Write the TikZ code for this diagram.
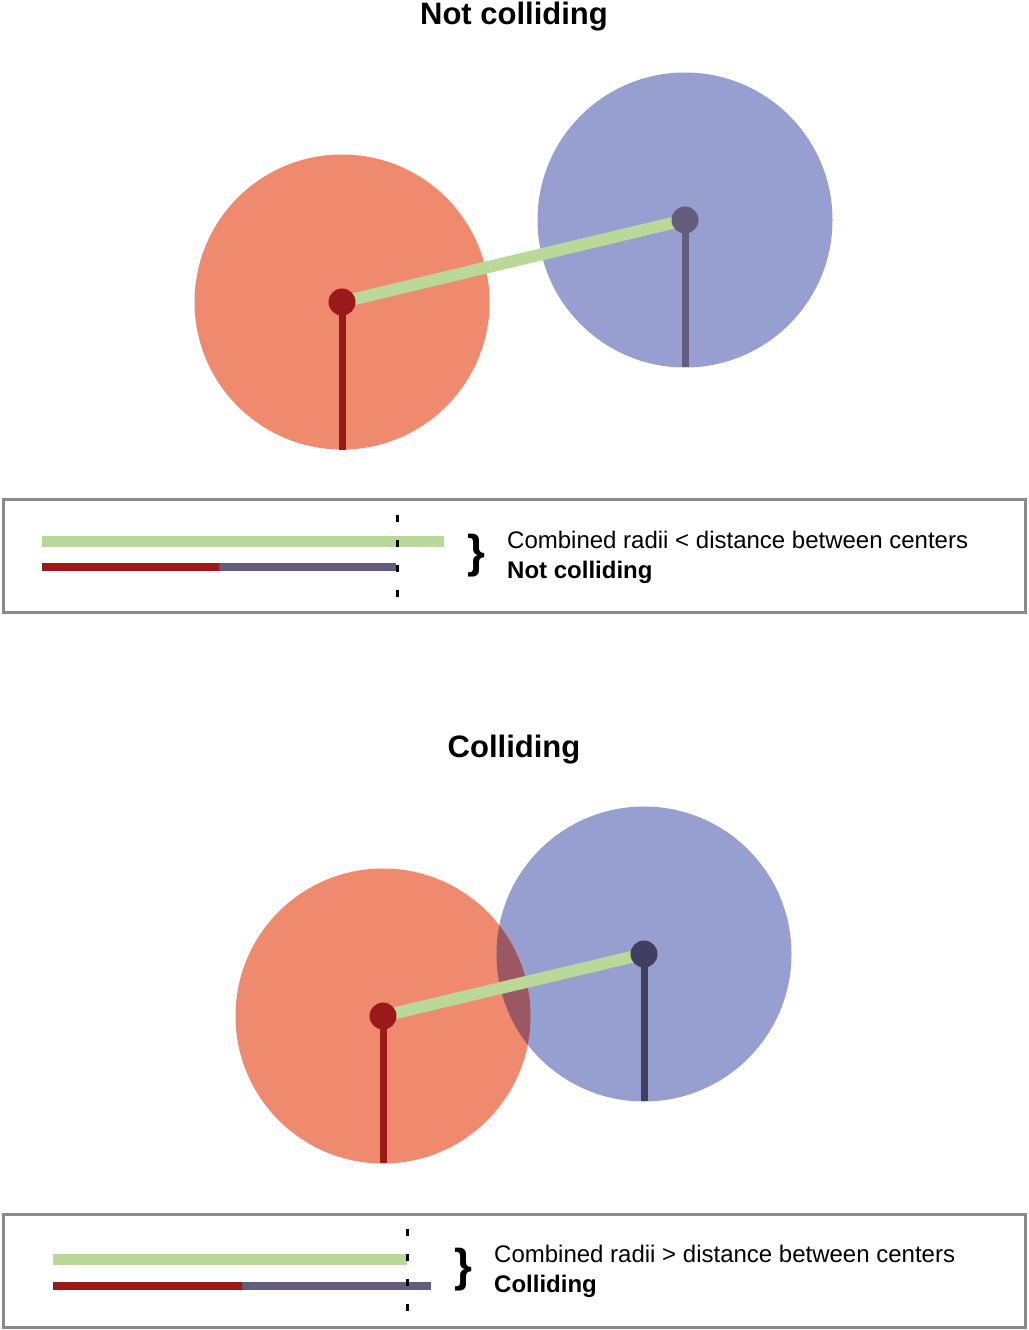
\documentclass[tikz,border=0pt]{standalone}
\usepackage{fontspec}
\setmainfont{Liberation Sans}
\definecolor{redfill}{RGB}{240,138,110}
\definecolor{bluefill}{RGB}{150,159,207}
\definecolor{greenl}{RGB}{186,216,152}
\definecolor{darkred}{RGB}{154,26,26}
\definecolor{slate}{RGB}{99,92,124}
\definecolor{darkslate}{RGB}{65,63,95}
\definecolor{interc}{RGB}{155,88,100}
\definecolor{boxgray}{RGB}{138,138,138}
\tikzset{
  title/.style={font=\fontsize{31}{36}\selectfont\bfseries, inner sep=0},
  legtext/.style={font=\fontsize{24}{30}\selectfont, anchor=north west, align=left, inner sep=0},
  bracetxt/.style={font=\fontsize{46}{50}\selectfont, inner sep=0},
  legbox/.style={draw=boxgray, line width=3pt},
  greenbar/.style={draw=greenl, line width=11pt},
  redbar/.style={draw=darkred, line width=8pt},
  slatebar/.style={draw=slate, line width=8pt},
  dashline/.style={draw=black, line width=3pt, dash pattern=on 7pt off 18pt},
  centerline/.style={draw=greenl, line width=12pt},
  radline/.style={line width=7pt},
}
\begin{document}
\begin{tikzpicture}[x=1pt,y=-1pt]
\useasboundingbox (0,0) rectangle (1028,1330);
\fill[white] (0,0) rectangle (1028,1330);

% ---------- Top: not colliding ----------
\node[title] (t1) at (514,17) {Not colliding};
\fill[redfill] (342,302) circle (147.5);
\fill[bluefill] (685,220) circle (147.5);
\coordinate (rc1) at (342,302);
\coordinate (bc1) at (685,220);
\coordinate (rb1) at (342,450);
\coordinate (bb1) at (685,367);
\draw[radline, darkred] (rc1) -- (rb1);
\draw[radline, slate] (bc1) -- (bb1);
\draw[centerline] (rc1) -- (bc1);
\fill[darkred] (rc1) circle (13.5);
\fill[slate] (bc1) circle (13.5);

% legend 1
\draw[legbox] (3,499) rectangle (1025,612);
\coordinate (g1a) at (42,541); \coordinate (g1b) at (444,541);
\coordinate (r1a) at (42,567); \coordinate (r1b) at (219,567); \coordinate (s1b) at (396,567);
\draw[greenbar] (g1a) -- (g1b);
\draw[redbar] (r1a) -- (r1b);
\draw[slatebar] (r1b) -- (s1b);
\coordinate (d1a) at (397,515); \coordinate (d1b) at (397,598);
\draw[dashline] (d1a) -- (d1b);
\node[bracetxt] (br1) at (476,556) {\textbf{\}}};
\node[legtext] (l1) at (507,531) {Combined radii < distance between centers\\\textbf{Not colliding}};

% ---------- Bottom: colliding ----------
\node[title] (t2) at (514,750) {Colliding};
\fill[redfill] (383,1016) circle (147.5);
\fill[bluefill] (644,954) circle (147.5);
\begin{scope}
  \clip (383,1016) circle (147.5);
  \fill[interc] (644,954) circle (147.5);
\end{scope}
\coordinate (rc2) at (383,1016);
\coordinate (bc2) at (644,954);
\coordinate (rb2) at (383,1163);
\coordinate (bb2) at (644,1101);
\draw[radline, darkred] (rc2) -- (rb2);
\draw[radline, darkslate] (bc2) -- (bb2);
\draw[centerline] (rc2) -- (bc2);
\fill[darkred] (rc2) circle (13.5);
\fill[darkslate] (bc2) circle (13.5);

% legend 2
\draw[legbox] (3,1214) rectangle (1025,1327);
\coordinate (g2a) at (53,1259); \coordinate (g2b) at (407,1259);
\coordinate (r2a) at (53,1286); \coordinate (r2b) at (242,1286); \coordinate (s2b) at (431,1286);
\draw[greenbar] (g2a) -- (g2b);
\draw[redbar] (r2a) -- (r2b);
\draw[slatebar] (r2b) -- (s2b);
\coordinate (d2a) at (407,1229); \coordinate (d2b) at (407,1312);
\draw[dashline] (d2a) -- (d2b);
\node[bracetxt] (br2) at (463,1270) {\textbf{\}}};
\node[legtext] (l2) at (494,1245) {Combined radii > distance between centers\\\textbf{Colliding}};
\end{tikzpicture}
\end{document}
